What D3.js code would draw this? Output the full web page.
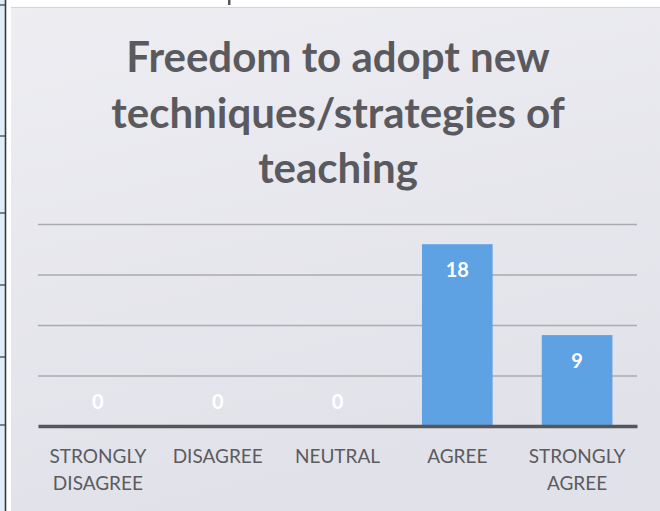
<!DOCTYPE html>
<html>
<head>
<meta charset="utf-8">
<script src="https://cdn.jsdelivr.net/npm/d3@7"></script>
<style>
  body { margin: 0; background: #fff; }
  svg { display: block; }
  text { font-family: Lato, "Open Sans", sans-serif; }
</style>
</head>
<body>
<svg id="chart" width="660" height="511"></svg>
<script>
// chart data
var categories = ['STRONGLY DISAGREE', 'DISAGREE', 'NEUTRAL', 'AGREE', 'STRONGLY AGREE'];
var categoryLines = [['STRONGLY', 'DISAGREE'], ['DISAGREE'], ['NEUTRAL'], ['AGREE'], ['STRONGLY', 'AGREE']];
var values = [0, 0, 0, 18, 9];
var yTicks = [0, 5, 10, 15, 20];
var titleLines = ['Freedom to adopt new', 'techniques/strategies of', 'teaching'];

var svg = d3.select('#chart');

// scanned page bits: table edge on the left, border on top
var edge = svg.append('g');
edge.append('rect').attr('x', 0).attr('y', 0).attr('width', 5).attr('height', 511).attr('fill', '#deedf6');
edge.append('line').attr('x1', 5.5).attr('x2', 5.5).attr('y1', 0).attr('y2', 511)
    .attr('stroke', '#3a3a3e').attr('stroke-width', 1.6);
[5, 136, 213, 285, 357, 425].forEach(function(yy) {
    edge.append('line').attr('x1', 0).attr('x2', 5).attr('y1', yy).attr('y2', yy)
        .attr('stroke', '#3a3a3e').attr('stroke-width', 1.2);
});
svg.append('line').attr('x1', 11).attr('x2', 660).attr('y1', 7.5).attr('y2', 7.5)
    .attr('stroke', '#d4d4da').attr('stroke-width', 1);
svg.append('rect').attr('x', 228).attr('y', 0).attr('width', 2.5).attr('height', 5).attr('fill', '#55555a');

// chart background
var defs = svg.append('defs');
var grad = defs.append('linearGradient').attr('id', 'bg')
    .attr('x1', 0).attr('y1', 0).attr('x2', 0.3).attr('y2', 1);
grad.append('stop').attr('offset', '0%').attr('stop-color', '#ededf2');
grad.append('stop').attr('offset', '100%').attr('stop-color', '#e1e2e9');

svg.append('rect')
    .attr('x', 11).attr('y', 8).attr('width', 649).attr('height', 503)
    .attr('fill', 'url(#bg)');

// title
svg.append('text')
    .attr('text-anchor', 'middle')
    .attr('fill', '#5a5a5e')
    .style('font-weight', 'bold')
    .style('font-size', '42px')
    .selectAll('tspan')
    .data(titleLines)
  .enter().append('tspan')
    .attr('x', 338)
    .attr('y', function(d, i) { return 72 + i * 55.5; })
    .text(function(d) { return d; });

// scales
var x = d3.scaleBand()
    .domain(categories)
    .range([38, 637])
    .paddingInner(0.41)
    .paddingOuter(0.205);

var y = d3.scaleLinear()
    .domain([0, 20])
    .range([426, 224]);

// gridlines
var grid = svg.append('g')
    .attr('transform', 'translate(38,0)')
    .call(d3.axisLeft(y).tickValues(yTicks.slice(1)).tickSize(-599).tickFormat(''));
grid.select('.domain').remove();
grid.selectAll('.tick line').attr('stroke', '#aaaab0').attr('stroke-width', 1.5);

// bars
svg.selectAll('.bar')
    .data(values)
  .enter().append('rect')
    .attr('class', 'bar')
    .attr('x', function(d, i) { return x(categories[i]); })
    .attr('width', x.bandwidth())
    .attr('y', function(d) { return y(d); })
    .attr('height', function(d) { return y(0) - y(d); })
    .attr('fill', '#5fa2e4');

// category axis
var xAxis = svg.append('g')
    .attr('transform', 'translate(0,' + y(0) + ')')
    .call(d3.axisBottom(x).tickSize(0).tickSizeOuter(0));
xAxis.select('.domain').attr('stroke', '#55555a').attr('stroke-width', 3.5);
xAxis.selectAll('.tick text').each(function(d, i) {
    var t = d3.select(this).text('').attr('y', 0).attr('dy', null)
        .attr('fill', '#5b5b60').style('font-size', '19px').style('font-family', 'Lato, sans-serif');
    t.selectAll('tspan').data(categoryLines[i]).enter().append('tspan')
        .attr('x', 0)
        .attr('y', function(l, j) { return 37 + j * 27; })
        .text(function(l) { return l; });
});

// data labels
svg.selectAll('.label')
    .data(values)
  .enter().append('text')
    .attr('class', 'label')
    .attr('x', function(d, i) { return x(categories[i]) + x.bandwidth() / 2; })
    .attr('y', function(d) { return d > 0 ? y(d) + 33 : y(0) - 17; })
    .attr('text-anchor', 'middle')
    .attr('fill', '#ffffff')
    .style('font-weight', 'bold')
    .style('font-size', '20px')
    .text(function(d) { return d; });
</script>
</body>
</html>
